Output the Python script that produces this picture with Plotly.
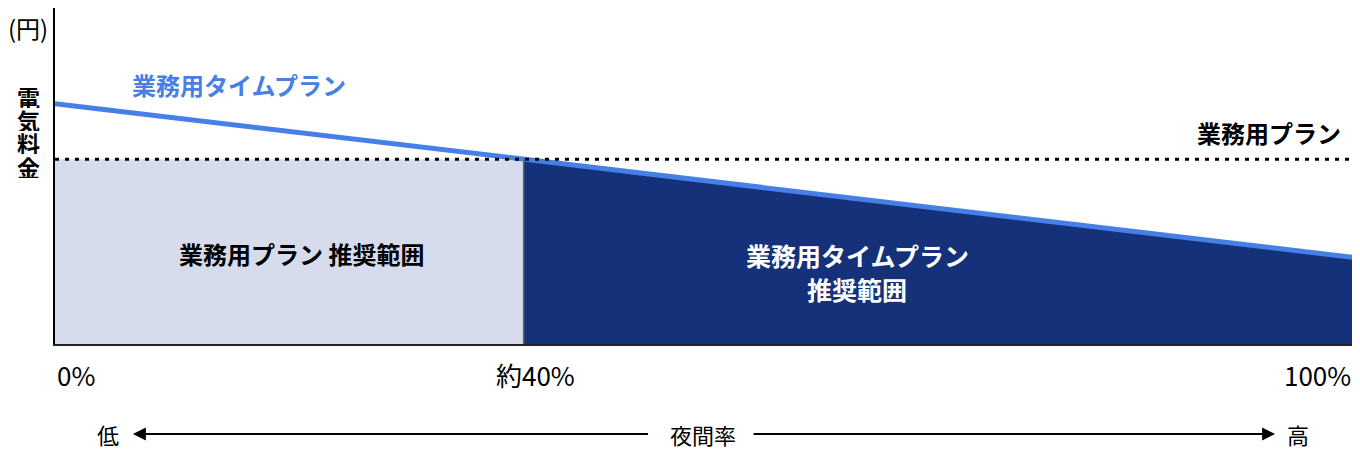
import plotly.graph_objects as go

# values (y in arbitrary yen units, x = night-time rate %)
night_rate = [0, 100]
time_plan_cost = [71.5, 25.8]
standard_plan_cost = [55, 55]

tick_pos = [0, 37, 100]
tick_labels = ['0%', '約40%', '100%']

time_plan_name = '業務用タイムプラン'
standard_plan_name = '業務用プラン'
y_title = '電気料金'
unit_label = '(円)'
axis_title = '夜間率'
low_label = '低'
high_label = '高'

JP = 'Noto Sans CJK JP'
BLUE = '#4680E6'
LIGHT = '#D6DCEB'
DARK = '#15317A'

# where the two plans cost the same
slope = (time_plan_cost[1] - time_plan_cost[0]) / (night_rate[1] - night_rate[0])
cross_x = night_rate[0] + (standard_plan_cost[0] - time_plan_cost[0]) / slope
cross_y = standard_plan_cost[0]

fig = go.Figure()

fig.add_trace(go.Scatter(x=[night_rate[0], cross_x], y=[cross_y, cross_y],
                         fill='tozeroy', fillcolor=LIGHT, mode='lines',
                         line=dict(width=0), hoverinfo='skip'))
fig.add_trace(go.Scatter(x=[cross_x, night_rate[1]], y=[cross_y, time_plan_cost[1]],
                         fill='tozeroy', fillcolor=DARK, mode='lines',
                         line=dict(width=0), hoverinfo='skip'))
fig.add_trace(go.Scatter(x=night_rate, y=time_plan_cost, mode='lines',
                         line=dict(color=BLUE, width=5)))
fig.add_trace(go.Scatter(x=night_rate, y=standard_plan_cost, mode='lines',
                         line=dict(color='black', width=3, dash='4px,6px')))

fig.add_shape(type='line', x0=cross_x, x1=cross_x, y0=0, y1=cross_y,
              line=dict(color='#666666', width=1.5))


def note(text, x, y, size=24, color='black', weight='bold', anchor='center',
         xref='x', yref='y', yanchor='middle', height=None):
    fig.add_annotation(text=text, x=x, y=y, xref=xref, yref=yref, showarrow=False,
                       xanchor=anchor, yanchor=yanchor, height=height,
                       font=dict(family=JP, size=size, color=color, weight=weight))


note(time_plan_name, 14.2, 77.1, color=BLUE)
note(standard_plan_name, 99.2, 62.8, anchor='right')
note('業務用プラン 推奨範囲', 19.0, 26.8)
note(time_plan_name, 61.8, 26.5, size=25, color='white')
note('推奨範囲', 61.8, 16.3, size=25, color='white')

# vertical y title, one character per line
for i, ch in enumerate(y_title):
    note(ch, -0.0208, 0.737 - i * 0.0693, size=23, xref='paper', yref='paper', height=23)
note(unit_label, -0.004, 1.0, size=24, weight='normal', anchor='right',
     xref='paper', yref='paper', yanchor='top')

# x tick labels
anchors = ['left', 'center', 'right']
for pos, lab, anc in zip(tick_pos, tick_labels, anchors):
    note(lab, pos, -0.09, size=26, weight='normal', anchor=anc, yref='y domain')

# night-rate arrow row
row_y = -0.268
note(low_label, 4.1, row_y, size=22, weight='normal', yref='y domain')
note(axis_title, 49.9, row_y, size=22, weight='normal', yref='y domain')
note(high_label, 95.8, row_y, size=22, weight='normal', yref='y domain')
for head, tail in [(6.0, 45.8), (94.0, 53.7)]:
    fig.add_annotation(x=head, y=row_y, ax=tail, ay=row_y, xref='x', yref='y domain',
                       axref='x', ayref='y domain', text='', showarrow=True,
                       arrowhead=2, arrowsize=1.3, arrowwidth=2, arrowcolor='black')

fig.update_layout(
    width=1352, height=462,
    margin=dict(l=47, r=7, t=0, b=126),
    plot_bgcolor='white', paper_bgcolor='white',
    showlegend=False,
    xaxis=dict(range=[0, 100], showgrid=False, zeroline=False, showticklabels=False,
               showline=True, linecolor='#222222', linewidth=2, fixedrange=True),
    yaxis=dict(range=[0, 100], showgrid=False, zeroline=False, showticklabels=False,
               showline=True, linecolor='black', linewidth=2, mirror=True, fixedrange=True),
)

fig.write_html('out.html')
